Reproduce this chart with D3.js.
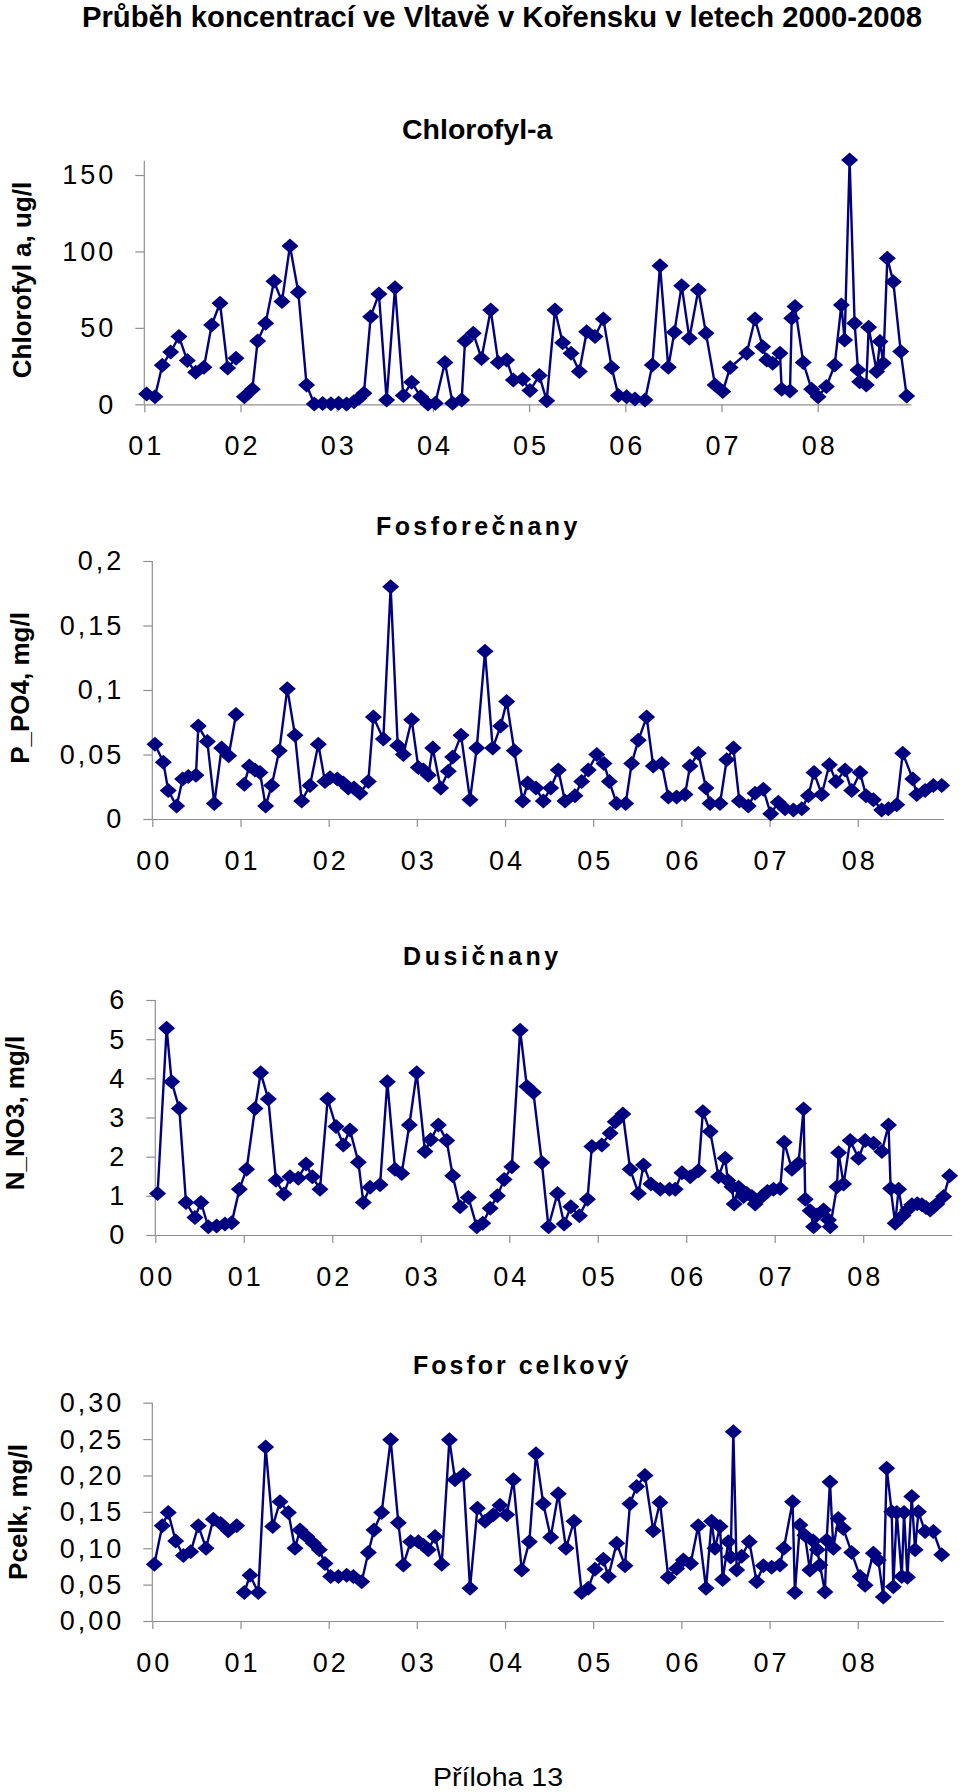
<!DOCTYPE html>
<html><head><meta charset="utf-8">
<script src="https://cdn.jsdelivr.net/npm/d3@7"></script>
<style>body{margin:0;background:#fff}svg{display:block}text{font-family:"Liberation Sans",Arial,Helvetica,sans-serif}</style>
</head><body>
<script>
// ---------- DATA ----------
const chlYears = [2001.024,2001.111,2001.187,2001.274,2001.360,2001.447,2001.534,2001.620,2001.700,2001.787,2001.866,2001.953,
2002.000,
2002.040,2002.123,2002.178,2002.261,2002.348,2002.431,2002.514,2002.601,2002.687,2002.767,2002.854,2002.940,
2003.020,2003.103,2003.179,2003.231,2003.283,2003.353,2003.439,2003.519,2003.606,2003.692,2003.779,2003.872,2003.949,
2004.025,2004.125,2004.205,2004.299,2004.334,2004.420,2004.505,2004.601,2004.680,2004.767,2004.836,2004.933,
2005.009,2005.106,2005.183,2005.269,2005.349,2005.436,2005.522,2005.599,2005.685,2005.772,2005.859,2005.928,
2006.014,2006.100,2006.205,2006.281,2006.361,2006.447,2006.510,2006.586,2006.666,2006.759,2006.839,2006.933,
2007.013,2007.089,2007.262,2007.348,2007.428,2007.470,2007.532,2007.608,2007.626,2007.712,2007.730,2007.764,2007.850,2007.937,
2008.004,2008.090,2008.177,2008.246,2008.280,2008.332,2008.384,2008.419,2008.436,2008.505,2008.530,2008.613,2008.648,2008.682,2008.724,2008.786,2008.863,2008.925];
const chlValues = [6.8,5.0,25.5,34.2,44.3,28.6,20.9,24.2,51.9,66.1,23.8,30.1,
null,
5.0,9.8,41.4,53.0,80.5,67.2,103.6,73.3,12.6,0.2,0.5,0.3,
0.7,0.2,1.7,3.9,7.2,57.3,72.2,2.8,76.3,5.7,14.4,5.0,0.2,
0.7,27.3,0.7,2.8,41.4,46.4,30.0,61.7,27.3,29.0,15.9,16.4,
9.0,18.8,2.4,61.7,40.3,33.4,21.4,47.5,44.3,55.8,24.0,5.7,
5.0,3.5,2.8,25.7,90.7,24.2,47.1,77.6,43.2,74.8,46.4,12.6,
8.3,24.0,33.4,55.8,37.7,29.0,26.8,33.4,9.8,8.7,56.3,63.9,27.3,9.8,
5.0,11.6,25.7,65.0,42.1,159.8,53.0,22.5,14.8,12.6,50.4,21.4,41.0,26.8,95.5,80.2,34.5,5.5];

const po4Years = [2000.030,2000.125,2000.181,2000.276,2000.344,2000.408,2000.495,2000.522,2000.624,2000.703,2000.786,2000.866,2000.949,
2001.000,
2001.043,2001.100,2001.164,2001.221,2001.285,2001.354,2001.440,2001.531,2001.618,2001.694,2001.788,2001.883,2001.958,
2002.015,2002.098,2002.166,2002.223,2002.287,2002.355,2002.450,2002.507,2002.620,2002.703,2002.783,2002.847,2002.941,
2003.017,2003.074,2003.130,2003.180,2003.270,2003.357,2003.406,2003.501,2003.603,2003.679,2003.773,2003.860,2003.950,
2004.019,2004.105,2004.200,2004.257,2004.351,2004.434,2004.518,2004.604,2004.680,2004.793,2004.869,2004.944,
2005.040,2005.122,2005.183,2005.266,2005.368,2005.436,2005.511,2005.606,2005.681,2005.777,2005.852,2005.946,
2006.041,2006.098,2006.192,2006.279,2006.325,2006.438,2006.514,2006.590,2006.657,2006.759,2006.835,2006.929,
2007.013,2007.099,2007.175,2007.270,2007.365,2007.440,2007.504,2007.591,2007.678,2007.754,2007.856,2007.931,
2008.026,2008.094,2008.177,2008.271,2008.347,2008.442,2008.510,2008.624,2008.669,2008.763,2008.857,2008.952];
const po4Values = [.058,.044,.022,.010,.031,.033,.034,.072,.060,.012,.055,.049,.081,
null,
.027,.041,.038,.036,.010,.026,.053,.101,.065,.014,.026,.058,.029,
.032,.031,.028,.024,.024,.020,.029,.079,.062,.180,.057,.050,.077,
.040,.038,.034,.055,.024,.037,.048,.065,.015,.055,.130,.055,.072,
.091,.053,.014,.028,.024,.014,.024,.038,.014,.018,.029,.038,
.050,.043,.029,.012,.012,.043,.061,.079,.041,.043,.017,.017,
.019,.041,.051,.024,.012,.012,.046,.055,.014,.010,.020,.023,
.004,.013,.008,.007,.008,.018,.036,.019,.042,.029,.038,.022,
.036,.018,.015,.007,.008,.011,.051,.031,.019,.022,.026,.026];

const no3Years = [2000.026,2000.128,2000.185,2000.271,2000.347,2000.448,2000.516,2000.599,2000.693,2000.787,2000.863,2000.950,
2001.032,2001.127,2001.191,2001.277,2001.364,2001.454,2001.522,2001.616,2001.703,2001.775,2001.861,2001.948,
2002.042,2002.125,2002.200,2002.295,2002.351,2002.427,2002.540,2002.622,2002.709,2002.784,2002.871,2002.954,
2003.048,2003.112,2003.199,2003.293,2003.361,2003.444,2003.538,2003.633,2003.700,2003.784,2003.866,2003.942,
2004.029,2004.123,2004.199,2004.273,2004.368,2004.443,2004.545,2004.620,2004.696,2004.793,2004.884,2004.933,
2005.046,2005.140,2005.197,2005.284,2005.366,2005.460,2005.517,2005.601,2005.706,2005.811,2005.876,2005.951,
2006.045,2006.138,2006.188,2006.271,2006.365,2006.440,2006.470,2006.516,2006.542,2006.591,2006.648,2006.685,2006.742,2006.779,2006.855,2006.918,2006.986,
2007.062,2007.107,2007.194,2007.269,2007.326,2007.345,2007.400,2007.439,2007.477,2007.552,2007.608,2007.627,2007.703,2007.722,2007.778,2007.853,2007.947,
2008.022,2008.117,2008.211,2008.286,2008.310,2008.361,2008.400,2008.450,2008.500,2008.550,2008.610,2008.663,2008.710,2008.757,2008.832,2008.908,2008.976];
const no3Values = [1.06,5.28,3.91,3.23,0.83,0.45,0.83,0.21,0.23,0.28,0.31,1.17,
1.68,3.23,4.14,3.47,1.40,1.05,1.49,1.45,1.81,1.49,1.17,3.47,
2.77,2.30,2.68,1.86,0.83,1.22,1.28,3.91,1.68,1.57,2.81,4.14,
2.13,2.43,2.81,2.41,1.51,0.72,0.96,0.21,0.30,0.68,1.00,1.42,
1.74,5.23,3.79,3.64,1.85,0.21,1.06,0.28,0.72,0.49,0.91,2.26,
2.30,2.60,2.89,3.09,1.68,1.06,1.79,1.30,1.17,1.17,1.17,1.59,
1.49,1.64,3.15,2.64,1.49,1.96,1.39,1.23,0.79,1.22,0.98,1.06,0.98,0.79,0.98,1.11,1.17,
1.19,2.37,1.68,1.83,3.22,0.91,0.62,0.21,0.51,0.64,0.38,0.21,1.23,2.10,1.30,2.41,1.96,
2.41,2.34,2.13,2.81,1.19,0.30,1.17,0.50,0.64,0.77,0.80,0.77,0.70,0.64,0.79,0.98,1.51];

const pcYears = [2000.023,2000.113,2000.181,2000.265,2000.352,2000.435,2000.522,2000.609,2000.692,2000.775,2000.862,2000.957,
2001.000,
2001.043,2001.108,2001.202,2001.285,2001.365,2001.448,2001.543,2001.618,2001.675,2001.750,2001.826,2001.894,2001.958,
2002.023,2002.110,2002.204,2002.280,2002.374,2002.450,2002.514,2002.601,2002.703,2002.790,2002.847,2002.930,
2003.017,2003.074,2003.130,2003.206,2003.282,2003.369,2003.433,2003.527,2003.603,2003.687,2003.773,2003.867,2003.943,
2004.019,2004.094,2004.189,2004.276,2004.351,2004.434,2004.518,2004.604,2004.691,2004.782,2004.869,2004.944,
2005.020,2005.115,2005.171,2005.266,2005.360,2005.417,2005.493,2005.587,2005.681,2005.757,2005.851,2005.946,
2006.022,2006.105,2006.191,2006.279,2006.343,2006.381,2006.438,2006.468,2006.532,2006.559,2006.589,2006.627,2006.683,2006.770,2006.853,2006.929,
2007.023,2007.117,2007.162,2007.261,2007.287,2007.344,2007.400,2007.457,2007.495,2007.541,2007.571,2007.628,2007.647,2007.685,2007.723,2007.779,2007.836,2007.931,
2008.026,2008.083,2008.177,2008.233,2008.290,2008.328,2008.385,2008.403,2008.442,2008.499,2008.525,2008.563,2008.612,2008.650,2008.688,2008.763,2008.857,2008.952];
const pcValues = [.078,.131,.149,.110,.090,.095,.131,.100,.140,.134,.124,.131,
null,
.039,.063,.039,.239,.130,.164,.149,.100,.125,.116,.107,.098,.079,
.061,.061,.063,.061,.054,.094,.125,.149,.249,.135,.077,.109,
.109,.104,.098,.116,.078,.249,.194,.201,.045,.155,.137,.146,.159,
.146,.194,.070,.109,.230,.161,.115,.175,.100,.137,.039,.045,
.071,.085,.061,.107,.076,.161,.185,.200,.124,.163,.060,.072,
.084,.079,.131,.045,.137,.100,.130,.057,.109,.088,.260,.070,.089,.109,.054,.076,
.074,.077,.100,.164,.039,.132,.118,.070,.110,.098,.077,.040,.111,.191,.100,.141,.127,.094,
.061,.049,.093,.084,.033,.210,.150,.047,.149,.061,.149,.060,.171,.098,.150,.123,.123,.091];

const chlXTicks = [2001,2002,2003,2004,2005,2006,2007,2008];
const xTicks = [2000,2001,2002,2003,2004,2005,2006,2007,2008];
const yearLabels = ["00","01","02","03","04","05","06","07","08"];
const chlYTicks = [0,50,100,150], chlYLabels = ["0","50","100","150"];
const po4YTicks = [0,0.05,0.1,0.15,0.2], po4YLabels = ["0","0,05","0,1","0,15","0,2"];
const no3YTicks = [0,1,2,3,4,5,6], no3YLabels = ["0","1","2","3","4","5","6"];
const pcYTicks = [0,0.05,0.1,0.15,0.2,0.25,0.3], pcYLabels = ["0,00","0,05","0,10","0,15","0,20","0,25","0,30"];

// ---------- DRAW ----------
const W = 960, H = 1792;
const NAVY = "#000080", AXIS = "#8f8f8f";
const svg = d3.select("body").append("svg").attr("width", W).attr("height", H);

svg.append("text").attr("x", 82).attr("y", 27).attr("font-size", 29).attr("font-weight", "bold")
  .attr("textLength", 840).attr("lengthAdjust", "spacingAndGlyphs")
  .text("Průběh koncentrací ve Vltavě v Kořensku v letech 2000-2008");

svg.append("text").attr("x", 433).attr("y", 1786).attr("font-size", 25)
  .attr("textLength", 130).attr("lengthAdjust", "spacingAndGlyphs").text("Příloha 13");

function panel(c) {
  const x = d3.scaleLinear().domain(c.xDomain).range(c.xRange);
  const y = d3.scaleLinear().domain(c.yDomain).range(c.yRange);
  const g = svg.append("g");
  const LS = 3;

  // title
  g.append("text").attr("x", c.title.x).attr("y", c.title.y).attr("font-size", c.title.size)
    .attr("font-weight", "bold").attr("letter-spacing", c.title.ls || 0).text(c.title.text);

  // y axis title
  g.append("text").attr("transform", `translate(${c.ylab.x},${c.ylab.y}) rotate(-90)`)
    .attr("text-anchor", "middle").attr("font-size", 26).attr("font-weight", "bold").text(c.ylab.text);

  // x axis
  const xa = g.append("g").attr("transform", `translate(0,${c.yRange[0]})`)
    .call(d3.axisBottom(x).tickValues(c.xTicks).tickFormat((d, i) => c.xLabels[i]).tickSize(8).tickSizeOuter(0));
  xa.select(".domain").attr("stroke", AXIS).attr("stroke-width", 1.2);
  xa.selectAll(".tick line").attr("stroke", AXIS).attr("stroke-width", 1.2);
  xa.selectAll(".tick text").attr("y", 51).attr("dy", 0).attr("dx", LS / 2)
    .attr("font-size", 27).attr("letter-spacing", LS).attr("fill", "#000")
    .style("font-family", '"Liberation Sans",Arial,sans-serif');

  // y axis
  const ya = g.append("g").attr("transform", `translate(${c.xRange[0]},0)`)
    .call(d3.axisLeft(y).tickValues(c.yTicks).tickFormat((d, i) => c.yLabels[i]).tickSize(9).tickSizeOuter(0));
  ya.select(".domain").remove();
  ya.selectAll(".tick line").attr("stroke", AXIS).attr("stroke-width", 1.2);
  ya.selectAll(".tick text").attr("x", -28).attr("dy", "0.33em")
    .attr("font-size", 27).attr("letter-spacing", LS).attr("fill", "#000")
    .style("font-family", '"Liberation Sans",Arial,sans-serif');
  g.append("line").attr("x1", c.xRange[0]).attr("x2", c.xRange[0])
    .attr("y1", c.axisTop).attr("y2", c.yRange[0]).attr("stroke", AXIS).attr("stroke-width", 1.2);

  // series
  const data = c.years.map((t, i) => ({ t, v: c.values[i] }));
  const line = d3.line().defined(d => d.v != null).x(d => x(d.t)).y(d => y(d.v));
  g.append("path").datum(data).attr("d", line).attr("fill", "none")
    .attr("stroke", NAVY).attr("stroke-width", 2.4).attr("stroke-linejoin", "round");
  g.selectAll("path.pt").data(data.filter(d => d.v != null)).join("path").attr("class", "pt")
    .attr("d", "M0,-7.5L8.5,0L0,7.5L-8.5,0Z").attr("fill", NAVY)
    .attr("transform", d => `translate(${x(d.t)},${y(d.v)})`);
}

panel({ years: chlYears, values: chlValues, xDomain: [2001, 2008.97], xRange: [144.3, 911],
  yDomain: [0, 150], yRange: [404.3, 175], yTicks: chlYTicks, yLabels: chlYLabels,
  xTicks: chlXTicks, xLabels: yearLabels.slice(1), axisTop: 160.7,
  title: { text: "Chlorofyl-a", x: 402, y: 139, size: 28.5 },
  ylab: { text: "Chlorofyl a, ug/l", x: 30.5, y: 280 } });

panel({ years: po4Years, values: po4Values, xDomain: [2000, 2008.97], xRange: [152.3, 943.3],
  yDomain: [0, 0.2], yRange: [819, 561], yTicks: po4YTicks, yLabels: po4YLabels,
  xTicks: xTicks, xLabels: yearLabels, axisTop: 561,
  title: { text: "Fosforečnany", x: 376, y: 535, size: 25, ls: 3.4 },
  ylab: { text: "P_PO4, mg/l", x: 29, y: 688 } });

panel({ years: no3Years, values: no3Values, xDomain: [2000, 2009], xRange: [155.3, 951.7],
  yDomain: [0, 6], yRange: [1235, 1000], yTicks: no3YTicks, yLabels: no3YLabels,
  xTicks: xTicks, xLabels: yearLabels, axisTop: 1000,
  title: { text: "Dusičnany", x: 403, y: 965, size: 25, ls: 3.6 },
  ylab: { text: "N_NO3, mg/l", x: 24, y: 1113 } });

panel({ years: pcYears, values: pcValues, xDomain: [2000, 2008.97], xRange: [152.3, 943.3],
  yDomain: [0, 0.3], yRange: [1621, 1402.7], yTicks: pcYTicks, yLabels: pcYLabels,
  xTicks: xTicks, xLabels: yearLabels, axisTop: 1402.7,
  title: { text: "Fosfor celkový", x: 413, y: 1374, size: 25, ls: 3 },
  ylab: { text: "Pcelk, mg/l", x: 27, y: 1512 } });
</script>
</body></html>
